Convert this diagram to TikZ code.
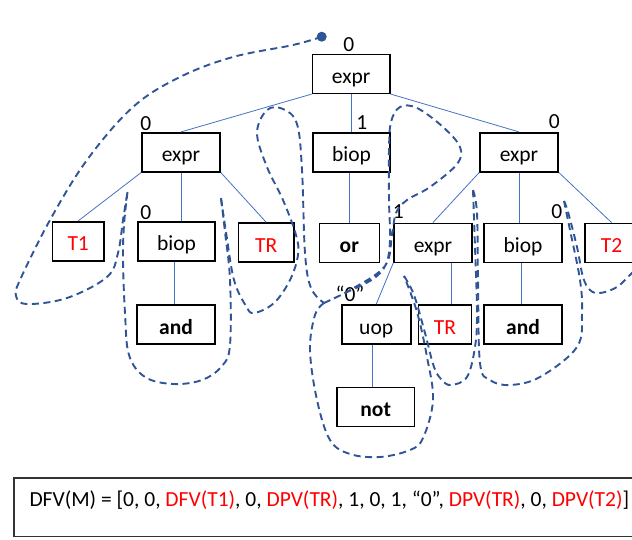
\documentclass[tikz,border=0pt]{standalone}
\usepackage{fontspec}
\setmainfont{Carlito}
\definecolor{edgeblue}{RGB}{68,114,196}
\definecolor{tourblue}{RGB}{47,85,151}
\definecolor{tred}{RGB}{255,0,0}
\newcommand{\nfont}{\fontsize{21.5}{25}\selectfont}
\begin{document}
\begin{tikzpicture}[x=1pt,y=-1pt,
  box/.style={draw=black, line width=1.6pt, inner sep=0pt, minimum height=39pt,
              text height=19.4pt, text depth=0pt, font=\nfont},
  redtxt/.style={text=tred},
  boldtxt/.style={font=\nfont\bfseries},
  edge/.style={draw=edgeblue, line width=0.8pt},
  tour/.style={draw=tourblue, line width=1.9pt, dash pattern=on 7pt off 4.5pt, line join=round},
  lab/.style={font=\nfont, inner sep=0pt, anchor=base}]
\useasboundingbox (0,0) rectangle (632,539);
% boxes
\node[box, minimum width=77.5pt] (root) at (351.2,73.8) {expr};
\node[box, minimum width=78pt] (L) at (181,152.2) {expr};
\node[box, minimum width=77pt] (M) at (351.5,152.2) {biop};
\node[box, minimum width=78pt] (R) at (519,152.2) {expr};
\node[box, minimum width=51.6pt, redtxt] (T1) at (78.2,241.2) {T1};
\node[box, minimum width=77pt] (LB) at (176.5,241.2) {biop};
\node[box, minimum width=55.7pt, redtxt] (TRa) at (266.2,242.6) {TR};
\node[box, minimum width=60pt, boldtxt] (or) at (349.3,242.8) {or};
\node[box, minimum width=78pt] (ME) at (433,242.8) {expr};
\node[box, minimum width=78pt] (RB) at (523,242.8) {biop};
\node[box, minimum width=53pt, redtxt] (T2) at (611.5,242.8) {T2};
\node[box, minimum width=78pt, boldtxt] (and1) at (176,324.5) {and};
\node[box, minimum width=69pt] (uop) at (376.2,324.5) {uop};
\node[box, minimum width=53.3pt, redtxt] (TRb) at (445,324.5) {TR};
\node[box, minimum width=78pt, boldtxt] (and2) at (523,324.5) {and};
\node[box, minimum width=77.5pt, boldtxt] (not) at (375.7,407.1) {not};
% tree edges
\draw[edge] (root.south west) -- (L.north);
\draw[edge] (root.south) -- (root.south |- M.north);
\draw[edge] (root.south east) -- (R.north);
\draw[edge] (L.south west) -- (T1.north);
\draw[edge] (L.south) -- (L.south |- LB.north);
\draw[edge] (L.south east) -- (TRa.north);
\draw[edge] ([xshift=-2pt]M.south) -- ([xshift=-2pt]M.south |- or.north);
\draw[edge] (R.south west) -- (ME.north);
\draw[edge] (R.south) -- (R.south |- RB.north);
\draw[edge] (R.south east) -- (T2.north);
\draw[edge] ([xshift=-2.2pt]LB.south) -- ([xshift=-2.2pt]LB.south |- and1.north);
\draw[edge] (ME.south west) -- (uop.north);
\draw[edge] ([xshift=6.7pt]TRb.north) -- ([xshift=6.7pt]TRb.north |- ME.south);
\draw[edge] ([xshift=-1.3pt]RB.south) -- ([xshift=-1.3pt]RB.south |- and2.north);
\draw[edge] ([xshift=-3.8pt]uop.south) -- ([xshift=-3.8pt]uop.south |- not.north);
% labels
\node[lab] (l0) at (348.8,51.7) {0};
\node[lab] (l1) at (145.7,130) {0};
\node[lab] (l2) at (361.7,129) {1};
\node[lab] (l3) at (554.4,128.4) {0};
\node[lab] (l4) at (145.7,219.3) {0};
\node[lab] (l5) at (398.3,218.3) {1};
\node[lab] (l6) at (556.7,218.3) {0};
\node[lab] (l7) at (350,301.7) {“0”};
% Euler tour
\fill[tourblue] (321.7,36.7) circle (5pt) coordinate (start);
\draw[tour] plot[smooth, tension=0.6] coordinates {(321.7,36.7) (293,45) (233,57) (180,77) (133,107) (87,160) (50,220) (20,280) (16,296) (27,304) (67,298) (107,277) (118,253) (123,220) (127.5,192)};
\draw[tour] plot[smooth, tension=0.6] coordinates {(127.5,192) (124,225) (123,260) (125,313) (129,355) (145,377) (173,384) (202,380) (222,366) (230,345) (230,280) (225,232) (221,198)};
\draw[tour] plot[smooth, tension=0.6] coordinates {(221,198) (226,232) (234,280) (246,306) (254,313) (274,303) (290,280) (298,255) (296,235) (283,200) (267,167) (257,133) (267,110) (283,109) (297,124) (302,170) (305,253) (311,288) (324,303)};
\draw[tour] plot[smooth, tension=0.6] coordinates {(324,303) (343,294) (373,279) (386,264) (390,240) (389,200) (389,150) (391,122) (400,107) (417,108) (443,127) (460,147) (457,164) (430,187) (407,200) (396,213) (392,235) (385,266) (352,289) (324,303)};
\draw[tour] plot[smooth, tension=0.6] coordinates {(324,303) (315,315) (310,350) (317,400) (330,440) (350,454) (380,457) (410,450) (423,438) (433,400) (427,357) (417,312) (404,276)};
\draw[tour] plot[smooth, tension=0.6] coordinates {(404,276) (414,295) (425,333) (434,367) (442,380) (451,385) (467,377) (475,347) (477,313) (475,247) (473,190)};
\draw[tour] plot[smooth, tension=0.6] coordinates {(473,190) (477,213) (478,280) (480,363) (490,380) (510,385) (540,377) (577,347) (582,313) (580,280) (570,230) (564,201)};
\draw[tour] plot[smooth, tension=0.6] coordinates {(564,201) (568,212) (577,247) (583,277) (590,290) (600,293) (617,287) (632,273) (640,268)};
% bottom formula box
\node[draw=black!80, line width=1.3pt, minimum width=627pt, minimum height=58.7pt, inner sep=0pt, anchor=north west] (formula) at (13.3,477.3) {};
\node[font=\nfont, anchor=base west, inner sep=0pt] (ftext) at (29.3,506.7) {DFV(M) = [0, 0, \textcolor{tred}{DFV(T1)}, 0, \textcolor{tred}{DPV(TR)}, 1, 0, 1, “0”, \textcolor{tred}{DPV(TR)}, 0, \textcolor{tred}{DPV(T2)}]};
\end{tikzpicture}
\end{document}
